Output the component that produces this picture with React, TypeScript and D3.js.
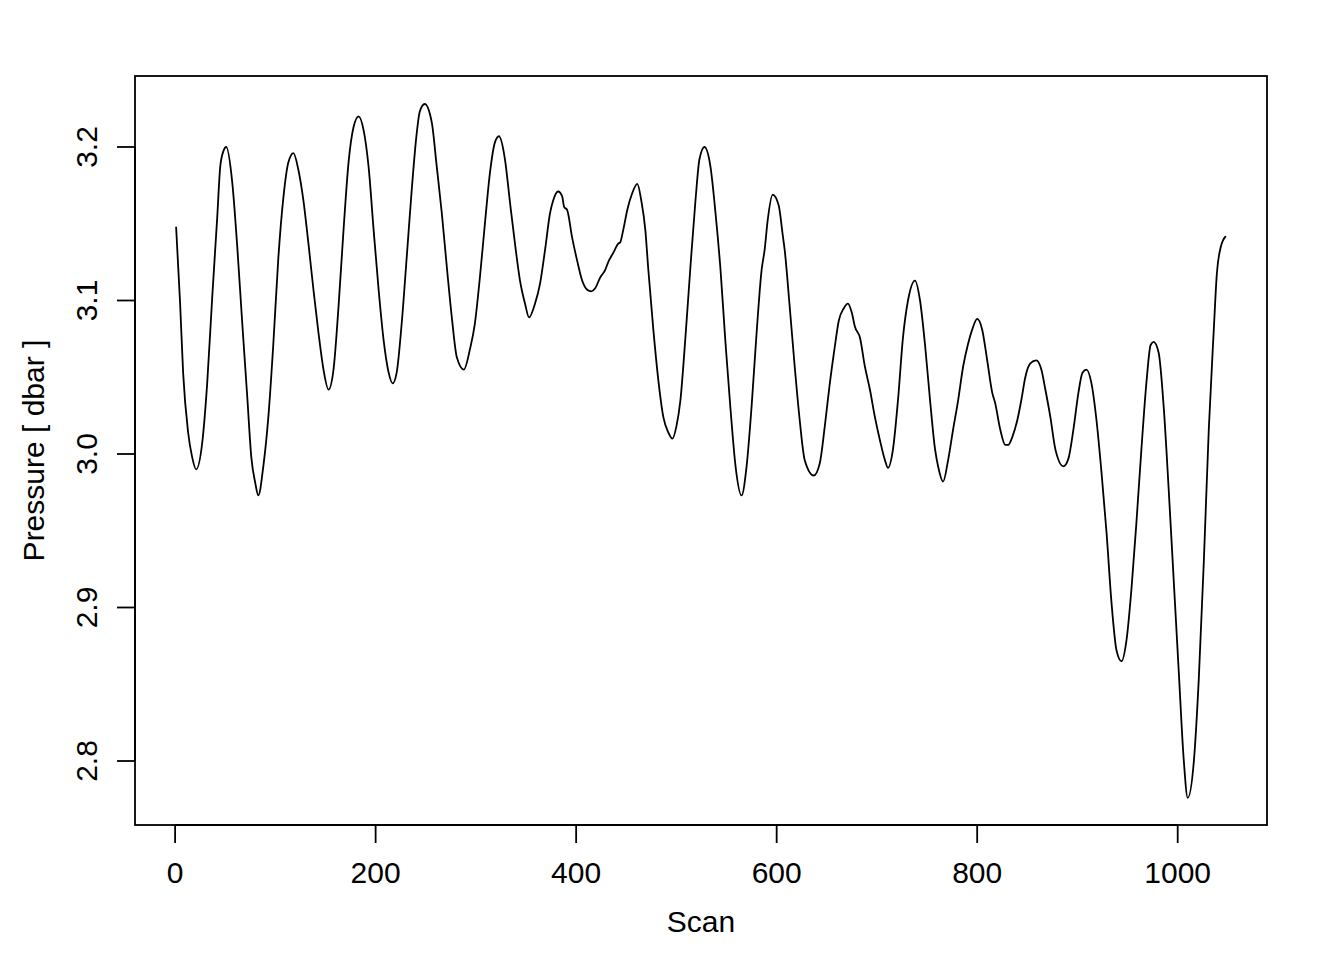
import React from "react";
import * as d3 from "d3";

const scans = [
  1, 5, 8, 13, 17, 21, 27, 32, 37, 42, 45, 48, 51, 57, 62, 67, 72, 76, 80, 83,
  88, 93, 98, 103, 108, 113, 118, 123, 128, 133, 138, 143, 148, 153, 158, 163, 168, 173, 178, 183,
  188, 193, 198, 203, 208, 213, 217, 221, 226, 231, 236, 241, 244, 249, 256, 261, 266, 271, 276, 281,
  288, 294, 299, 304, 309, 314, 319, 323, 329, 334, 339, 344, 349, 353, 359, 364, 369, 374, 377, 382,
  386, 388, 391, 396, 401, 406, 411, 415, 419, 424, 429, 432, 437, 442, 444, 447, 451, 456, 461, 465,
  469, 472, 477, 482, 487, 492, 496, 500, 504, 509, 514, 519, 523, 528, 534, 539, 544, 549, 554, 559,
  565, 570, 575, 580, 585, 588, 591, 596, 602, 606, 608, 613, 618, 623, 628, 637, 643, 648, 653, 658,
  662, 667, 671, 675, 678, 683, 688, 693, 698, 703, 708, 711, 716, 721, 726, 731, 738, 743, 748, 753,
  758, 761, 766, 771, 776, 781, 786, 791, 795, 800, 805, 810, 815, 818, 823, 828, 831, 835, 840, 844,
  848, 853, 859, 864, 868, 873, 878, 886, 891, 896, 901, 905, 909, 914, 919, 924, 929, 934, 939, 944,
  949, 954, 959, 964, 969, 973, 976, 981, 986, 991, 996, 1001, 1006, 1010, 1016, 1021, 1026, 1031, 1036, 1039,
  1043, 1048,
];

const pressure = [
  3.148, 3.098, 3.053, 3.014, 2.998, 2.99, 3.007, 3.046, 3.102, 3.154, 3.187, 3.197, 3.2, 3.177, 3.135, 3.085, 3.037, 2.998, 2.981, 2.973,
  2.992, 3.024, 3.072, 3.128, 3.167, 3.19, 3.196, 3.185, 3.165, 3.137, 3.107, 3.079, 3.055, 3.042, 3.055, 3.096, 3.146, 3.19, 3.213, 3.22,
  3.211, 3.187, 3.146, 3.107, 3.074, 3.053, 3.046, 3.053, 3.085, 3.128, 3.172, 3.209, 3.223, 3.228, 3.216, 3.187, 3.157, 3.122, 3.089, 3.063,
  3.055, 3.068, 3.085, 3.115, 3.15, 3.183, 3.203, 3.207, 3.192, 3.164, 3.137, 3.113, 3.098, 3.089, 3.098, 3.111, 3.133, 3.157, 3.165, 3.171,
  3.168, 3.161, 3.159, 3.141, 3.126, 3.113, 3.107, 3.106, 3.108, 3.115, 3.12, 3.125, 3.131, 3.137, 3.138, 3.146, 3.159, 3.17, 3.176, 3.165,
  3.146, 3.12, 3.081, 3.048, 3.024, 3.014, 3.01, 3.018, 3.035, 3.076, 3.122, 3.165, 3.192, 3.2, 3.187, 3.157, 3.12, 3.072, 3.029, 2.992,
  2.973, 2.992, 3.031, 3.079, 3.12, 3.133, 3.152, 3.169, 3.162, 3.143, 3.133, 3.096, 3.057, 3.022, 2.996, 2.986, 2.994, 3.018, 3.046, 3.07,
  3.087, 3.095, 3.098, 3.092, 3.083, 3.076, 3.057, 3.042, 3.024, 3.009, 2.996, 2.991, 3.003, 3.035, 3.076, 3.1, 3.113, 3.1, 3.071, 3.035,
  3.003, 2.992, 2.982, 2.996, 3.016, 3.035, 3.057, 3.072, 3.081, 3.088, 3.081, 3.061, 3.04, 3.033, 3.016, 3.006, 3.006, 3.011, 3.022, 3.035,
  3.05, 3.059, 3.061, 3.055, 3.042, 3.024, 3.003, 2.992, 2.997, 3.016, 3.04, 3.053, 3.055, 3.046, 3.022, 2.988, 2.949, 2.903, 2.872, 2.865,
  2.879, 2.913, 2.957, 3.005, 3.048, 3.071, 3.073, 3.066, 3.031, 2.977, 2.918, 2.859, 2.801, 2.776, 2.799, 2.853, 2.929, 3.016, 3.081, 3.117,
  3.135, 3.142,
];

const xTicks = [0, 200, 400, 600, 800, 1000];
const yTicks = [2.8, 2.9, 3.0, 3.1, 3.2];
const yTickLabels = ["2.8", "2.9", "3.0", "3.1", "3.2"];

const xTitle = "Scan";
const yTitle = "Pressure [ dbar ]";

export default function App() {
  const W = 1344;
  const H = 960;
  const box = { left: 135, right: 1267, top: 76, bottom: 825 };
  const x = d3.scaleLinear().domain([0, 1000]).range([175.1, 1177.7]);
  const y = d3.scaleLinear().domain([2.8, 3.2]).range([761, 147]);
  const pts = scans.map((s, i) => [s, pressure[i]] as [number, number]);
  const line = d3
    .line<[number, number]>()
    .x((d) => x(d[0]))
    .y((d) => y(d[1]))
    .curve(d3.curveMonotoneX);
  const font = "'Liberation Sans', Arial, Helvetica, sans-serif";
  const fs = 30;
  const tick = 18;
  const cy = (box.top + box.bottom) / 2;
  const cx = (box.left + box.right) / 2;
  return (
    <svg
      width={W}
      height={H}
      style={{ position: "absolute", left: 0, top: 0, background: "#fff" }}
      fontFamily={font}
    >
      <rect x={0} y={0} width={W} height={H} fill="#fff" />
      <path d={line(pts) || ""} fill="none" stroke="#000" strokeWidth={1.8} strokeLinejoin="round" />
      <rect
        x={box.left}
        y={box.top}
        width={box.right - box.left}
        height={box.bottom - box.top}
        fill="none"
        stroke="#000"
        strokeWidth={1.8}
      />
      {/* x axis */}
      <line x1={x(xTicks[0])} x2={x(xTicks[xTicks.length - 1])} y1={box.bottom} y2={box.bottom} stroke="#000" strokeWidth={1.8} />
      {xTicks.map((t) => (
        <g key={t}>
          <line x1={x(t)} x2={x(t)} y1={box.bottom} y2={box.bottom + tick} stroke="#000" strokeWidth={1.8} />
          <text x={x(t)} y={883} textAnchor="middle" fontSize={fs} fill="#000">
            {t}
          </text>
        </g>
      ))}
      <text x={cx} y={932} textAnchor="middle" fontSize={fs} fill="#000">
        {xTitle}
      </text>
      {/* y axis */}
      <line x1={box.left} x2={box.left} y1={y(yTicks[0])} y2={y(yTicks[yTicks.length - 1])} stroke="#000" strokeWidth={1.8} />
      {yTicks.map((t, i) => (
        <g key={t}>
          <line x1={box.left} x2={box.left - tick} y1={y(t)} y2={y(t)} stroke="#000" strokeWidth={1.8} />
          <text
            transform={`translate(97,${y(t)}) rotate(-90)`}
            textAnchor="middle"
            fontSize={fs}
            fill="#000"
          >
            {yTickLabels[i]}
          </text>
        </g>
      ))}
      <text transform={`translate(44,${cy}) rotate(-90)`} textAnchor="middle" fontSize={fs} fill="#000">
        {yTitle}
      </text>
    </svg>
  );
}
